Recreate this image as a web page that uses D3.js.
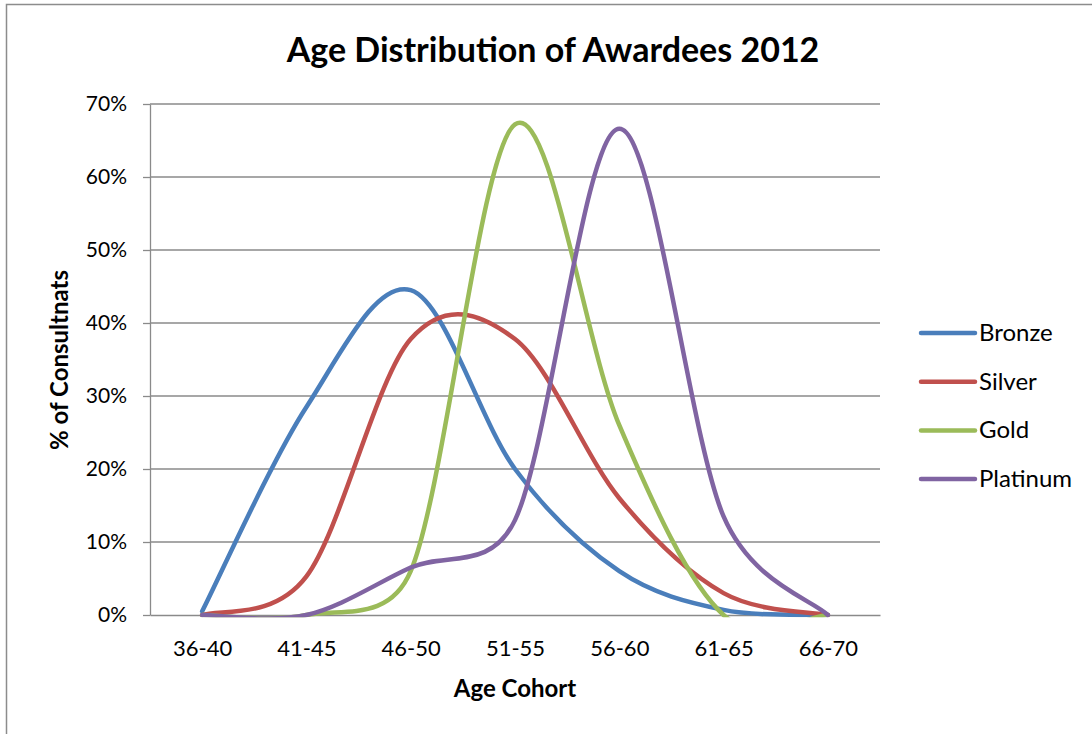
<!DOCTYPE html>
<html>
<head>
<meta charset="utf-8">
<script src="https://cdn.jsdelivr.net/npm/d3@7"></script>
<style>
  html, body { margin: 0; padding: 0; background: #fff; }
  svg { display: block; font-family: Lato, "Open Sans", sans-serif; }
</style>
</head>
<body>
<svg id="chart" width="1092" height="734"></svg>
<script>
// Age cohorts on the category axis
const cohorts = ["36-40", "41-45", "46-50", "51-55", "56-60", "61-65", "66-70"];

// Share of consultants per cohort, by award level
const bronze   = [0.005, 0.285, 0.445, 0.200, 0.060, 0.007, 0.000];
const silver   = [0.000, 0.053, 0.378, 0.378, 0.160, 0.030, 0.000];
const gold     = [0.000, 0.000, 0.060, 0.672, 0.260, 0.000, 0.000];
const platinum = [0.000, 0.000, 0.065, 0.130, 0.666, 0.135, 0.000];

const seriesNames  = ["Bronze", "Silver", "Gold", "Platinum"];
const seriesColors = ["#4A7EBB", "#C0504D", "#9BBB59", "#8064A2"];
const yTicks = [0, 0.1, 0.2, 0.3, 0.4, 0.5, 0.6, 0.7];

const series = [bronze, silver, gold, platinum].map((vals, i) => ({
  name: seriesNames[i], color: seriesColors[i], values: vals
}));

const svg = d3.select("#chart");
const plot = { left: 150, right: 880, top: 104, bottom: 615 };
const gridColor = "#8a8a8a";

// chart area frame
svg.append("rect")
  .attr("x", 6.5).attr("y", 4.5)
  .attr("width", 1100).attr("height", 760)
  .attr("fill", "#fff").attr("stroke", "#8c8c8c").attr("stroke-width", 1.5);

const x = d3.scalePoint().domain(cohorts).range([plot.left, plot.right]).padding(0.5);
const y = d3.scaleLinear().domain([0, 0.7]).range([plot.bottom, plot.top]);

// horizontal gridlines
svg.append("g").selectAll("line").data(yTicks.slice(1)).join("line")
  .attr("x1", plot.left).attr("x2", plot.right)
  .attr("y1", d => y(d)).attr("y2", d => y(d))
  .attr("stroke", gridColor).attr("stroke-width", 1.3);

// value axis
const yAxis = svg.append("g").attr("transform", `translate(${plot.left},0)`)
  .call(d3.axisLeft(y).tickValues(yTicks).tickFormat(d3.format(".0%"))
    .tickSizeInner(7).tickSizeOuter(0).tickPadding(16));
yAxis.select(".domain").attr("stroke", gridColor).attr("stroke-width", 1.3);
yAxis.selectAll(".tick line").attr("stroke", gridColor).attr("stroke-width", 1.3);
yAxis.selectAll("text").attr("font-size", 21).attr("fill", "#000")
  .attr("font-family", "Lato, sans-serif");

// category axis
const xAxis = svg.append("g").attr("transform", `translate(0,${plot.bottom})`)
  .call(d3.axisBottom(x).tickSize(0).tickPadding(25));
xAxis.select(".domain").attr("stroke", gridColor).attr("stroke-width", 1.3);
xAxis.selectAll("text").attr("font-size", 22).attr("fill", "#000")
  .attr("font-family", "Lato, sans-serif");

// Smoothed line: cubic Bezier segments whose control arms follow the
// neighbouring points (1/6 of the chord) but never exceed half the segment.
function smoothPath(pts) {
  const p = d3.path();
  const n = pts.length;
  const dist = (a, b) => Math.hypot(b[0] - a[0], b[1] - a[1]);
  p.moveTo(pts[0][0], pts[0][1]);
  for (let i = 0; i < n - 1; i++) {
    const p0 = pts[Math.max(i - 1, 0)];
    const p1 = pts[i];
    const p2 = pts[i + 1];
    const p3 = pts[Math.min(i + 2, n - 1)];
    const seg = dist(p1, p2);
    const d02 = dist(p0, p2);
    const d13 = dist(p1, p3);
    let f0 = 1 / 6, f1 = 1 / 6;
    if (d02 / 6 > seg / 2) f0 = seg / 2 / d02;
    if (d13 / 6 > seg / 2) f1 = seg / 2 / d13;
    const c1 = [p1[0] + f0 * (p2[0] - p0[0]), p1[1] + f0 * (p2[1] - p0[1])];
    const c2 = [p2[0] - f1 * (p3[0] - p1[0]), p2[1] - f1 * (p3[1] - p1[1])];
    p.bezierCurveTo(c1[0], c1[1], c2[0], c2[1], p2[0], p2[1]);
  }
  return p.toString();
}

svg.append("clipPath").attr("id", "plotClip")
  .append("rect").attr("x", 0).attr("y", 0)
  .attr("width", 1092).attr("height", plot.bottom + 2.3);

svg.append("g").attr("clip-path", "url(#plotClip)")
  .selectAll("path").data(series).join("path")
  .attr("d", d => smoothPath(d.values.map((v, i) => [x(cohorts[i]), y(v)])))
  .attr("fill", "none")
  .attr("stroke", d => d.color)
  .attr("stroke-width", 4.5)
  .attr("stroke-linecap", "round")
  .attr("stroke-linejoin", "round");

// title
svg.append("text")
  .attr("x", 553).attr("y", 62)
  .attr("text-anchor", "middle")
  .attr("font-size", 34).attr("font-weight", "bold")
  .text("Age Distribution of Awardees 2012");

// axis titles
svg.append("text")
  .attr("x", 515).attr("y", 697)
  .attr("text-anchor", "middle")
  .attr("font-size", 24).attr("font-weight", "bold")
  .text("Age Cohort");

svg.append("text")
  .attr("transform", "translate(68,360) rotate(-90)")
  .attr("text-anchor", "middle")
  .attr("font-size", 24).attr("font-weight", "bold")
  .text("% of Consultnats");

// legend
const legend = svg.append("g").selectAll("g").data(series).join("g")
  .attr("transform", (d, i) => `translate(921,${333 + i * 48.7})`);
legend.append("line")
  .attr("x1", 0).attr("x2", 54)
  .attr("stroke", d => d.color).attr("stroke-width", 4.5)
  .attr("stroke-linecap", "round");
legend.append("text")
  .attr("x", 58).attr("y", 8)
  .attr("font-size", 24)
  .text(d => d.name);
</script>
</body>
</html>
